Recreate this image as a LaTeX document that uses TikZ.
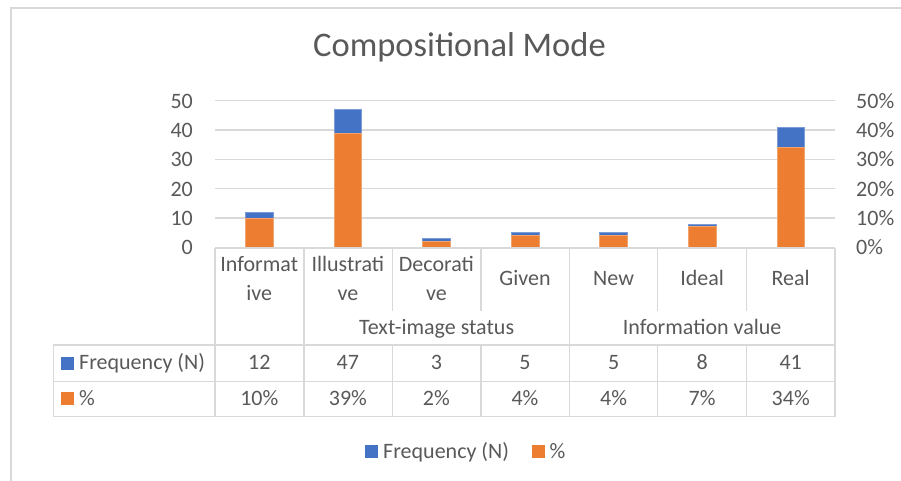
\documentclass[tikz,border=0pt]{standalone}
\usepackage{fontspec}
\setmainfont{Carlito}
\definecolor{txt}{HTML}{595959}
\definecolor{gridc}{HTML}{D9D9D9}
\definecolor{barblue}{HTML}{4472C4}
\definecolor{barorange}{HTML}{ED7D31}
\tikzset{
  lbl/.style={text=txt, inner sep=0pt, font=\fontsize{22}{26}\selectfont},
  titlestyle/.style={text=txt, inner sep=0pt, font=\fontsize{34.5}{40}\selectfont},
  gridline/.style={draw=gridc, line width=1.2pt},
  tabline/.style={draw=gridc, line width=1.5pt},
  framestyle/.style={draw=gridc, line width=2pt},
  bluebar/.style={fill=barblue, draw=barblue!70!white, line width=0.6pt},
  orangebar/.style={fill=barorange, draw=barorange!70!white, line width=0.6pt},
  keyblue/.style={fill=barblue, draw=none, minimum width=12.7pt, minimum height=12.7pt, inner sep=0pt},
  keyorange/.style={fill=barorange, draw=none, minimum width=12.7pt, minimum height=12.7pt, inner sep=0pt},
}
\begin{document}
\begin{tikzpicture}[x=1pt,y=-1pt]
\useasboundingbox (0,0) rectangle (901,481);
% frame
\draw[framestyle] (11,481) -- (11,8) -- (901,8);
% title
\node[titlestyle, anchor=base] (title) at (459.5,56.7) {Compositional Mode};
% gridlines and axis labels
\foreach \v/\l/\r in {0/0/0\%,1/10/10\%,2/20/20\%,3/30/30\%,4/40/40\%,5/50/50\%}{
  \pgfmathsetmacro{\yy}{247.3-29.32*\v}
  \ifnum\v>0 \draw[gridline] (215,\yy) -- (835,\yy); \fi
  \node[lbl, anchor=base east] (yl\v) at (193,\yy+7.5) {\l};
  \node[lbl, anchor=base west] (yr\v) at (856,\yy+7.5) {\r};
}
% bars
\foreach \i/\n/\p in {0/12/10,1/47/39,2/3/2,3/5/4,4/5/4,5/8/7,6/41/34}{
  \pgfmathsetmacro{\cx}{215+88.571*(\i+0.5)}
  \fill[bluebar] (\cx-13.8,247.3) rectangle (\cx+13.8,247.3-2.932*\n);
  \fill[orangebar] (\cx-13.8,247.3) rectangle (\cx+13.8,247.3-2.932*\p);
  \node[lbl, anchor=base] (n\i) at (\cx,369.3) {\n};
  \node[lbl, anchor=base] (p\i) at (\cx,405) {\p\%};
}
% table lines
\draw[tabline] (215,248) -- (835,248);
\draw[tabline] (53.3,345) -- (835,345);
\draw[tabline] (53.3,381.7) -- (835,381.7);
\draw[tabline] (53.3,416.7) -- (835,416.7);
\draw[tabline] (53.3,345) -- (53.3,416.7);
\foreach \x in {215,304,569.3,835}{
  \draw[tabline] (\x,248) -- (\x,416.7);
}
\foreach \x in {392.3,481,657.7,746.7}{
  \draw[tabline] (\x,248) -- (\x,310.7);
  \draw[tabline] (\x,345) -- (\x,416.7);
}
% category labels
\node[lbl, anchor=base] (c0a) at (259.3,271.7) {Informat};
\node[lbl, anchor=base] (c0b) at (259.3,300) {ive};
\node[lbl, anchor=base] (c1a) at (347.9,271.7) {Illustrati};
\node[lbl, anchor=base] (c1b) at (347.9,300) {ve};
\node[lbl, anchor=base] (c2a) at (436.4,271.7) {Decorati};
\node[lbl, anchor=base] (c2b) at (436.4,300) {ve};
\node[lbl, anchor=base] (c3) at (525,285.7) {Given};
\node[lbl, anchor=base] (c4) at (613.6,285.7) {New};
\node[lbl, anchor=base] (c5) at (702.1,285.7) {Ideal};
\node[lbl, anchor=base] (c6) at (790.7,285.7) {Real};
\node[lbl, anchor=base] (g1) at (436.6,334.3) {Text-image status};
\node[lbl, anchor=base] (g2) at (702.1,334.3) {Information value};
% row keys
\node[keyblue] (kb) at (67.3,363.5) {};
\node[lbl, anchor=base west] (kbt) at (79,369.3) {Frequency (N)};
\node[keyorange] (ko) at (67.3,398.8) {};
\node[lbl, anchor=base west] (kot) at (79,405) {\%};
% legend
\node[keyblue] (lb) at (371.3,451.3) {};
\node[lbl, anchor=base west] (lbt) at (383,458.3) {Frequency (N)};
\node[keyorange] (lo) at (538.6,451.3) {};
\node[lbl, anchor=base west] (lot) at (549.5,458.3) {\%};
\end{tikzpicture}
\end{document}
